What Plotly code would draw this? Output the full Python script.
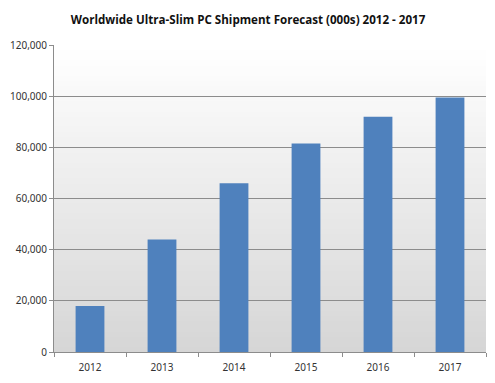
import plotly.graph_objects as go

years = ["2012", "2013", "2014", "2015", "2016", "2017"]
shipments = [18000, 44000, 66000, 81500, 92000, 99500]
y_ticks = [0, 20000, 40000, 60000, 80000, 100000, 120000]
y_labels = ["0", "20,000", "40,000", "60,000", "80,000", "100,000", "120,000"]

fig = go.Figure()
fig.add_trace(go.Bar(x=years, y=shipments, marker=dict(color="#4F81BD", line=dict(width=0)),
                     width=0.4))

# gradient plot background (white top -> light gray bottom)
n = 60
shapes = []
for i in range(n):
    t = i / (n - 1)
    c = int(round(255 - (255 - 214) * (1 - t)))
    shapes.append(dict(type="rect", xref="paper", yref="paper", x0=0, x1=1,
                       y0=i / n, y1=min(1, (i + 2) / n), fillcolor=f"rgb({c},{c},{c})",
                       line=dict(width=0), layer="below"))

# the page body has an 8px default margin, so the figure is sized to fit the window
fig.update_layout(
    width=487, height=375,
    margin=dict(l=46, r=9, t=37, b=31),
    paper_bgcolor="white",
    plot_bgcolor="rgba(0,0,0,0)",
    shapes=shapes,
    showlegend=False,
    title=dict(text="<b>Worldwide Ultra-Slim PC Shipment Forecast (000s) 2012 - 2017</b>",
               x=0.493, xanchor="center", y=0.968, yanchor="middle",
               font=dict(family="Open Sans, Noto Sans, sans-serif", size=11.6, color="#111")),
    font=dict(family="Noto Sans, sans-serif", size=10, color="#333"),
    xaxis=dict(type="category", showline=True, linecolor="#8c8c8c", linewidth=1,
               ticks="outside", tickson="boundaries", ticklen=4, tickcolor="#8c8c8c",
               ticklabelstandoff=6,
               showgrid=False, automargin=False, tickfont=dict(size=10, color="#333")),
    yaxis=dict(range=[0, 120000], tickvals=y_ticks, ticktext=y_labels,
               showline=True, linecolor="#8c8c8c", linewidth=1,
               ticks="outside", ticklen=4, tickcolor="#8c8c8c",
               showgrid=True, gridcolor="#8c8c8c", gridwidth=1, zeroline=False,
               automargin=False, tickfont=dict(size=10, color="#333")),
)

fig.write_html("out.html")
